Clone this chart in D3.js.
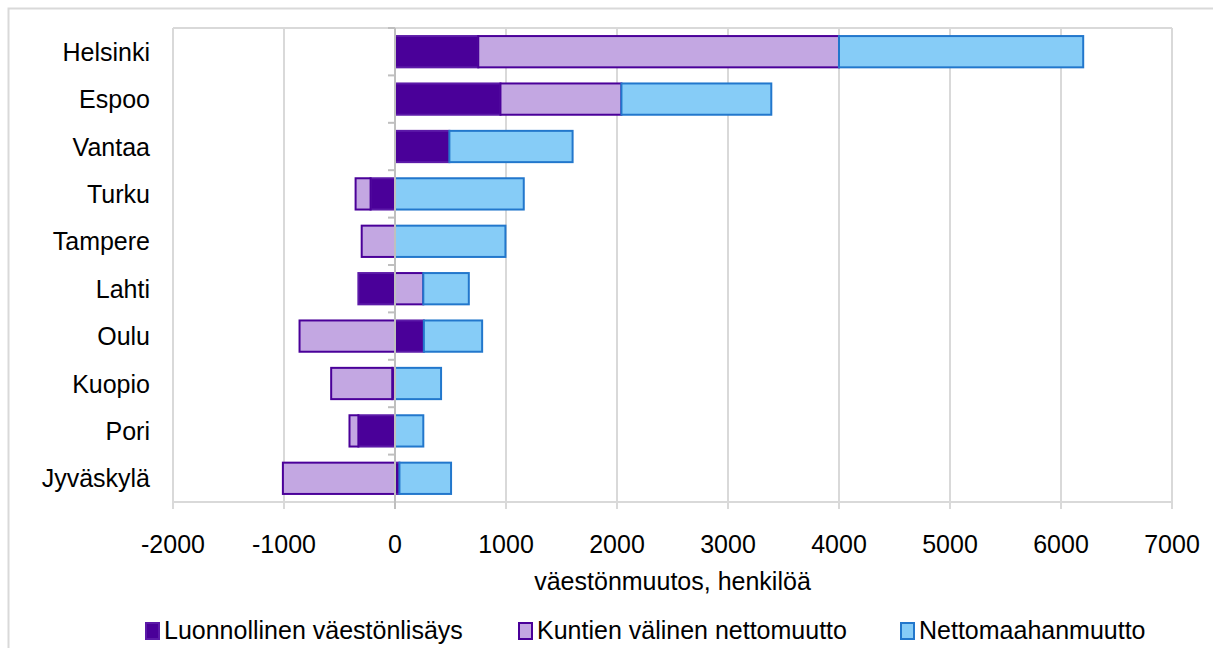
<!DOCTYPE html>
<html>
<head>
<meta charset="utf-8">
<script src="https://cdn.jsdelivr.net/npm/d3@7"></script>
<style>
  body { margin: 0; background: #fff; }
  text { font-family: "Liberation Sans", Arial, sans-serif; fill: #000; }
</style>
</head>
<body>
<svg id="chart" width="1213" height="648"></svg>
<script>
// data
let cities = ['Helsinki', 'Espoo', 'Vantaa', 'Turku', 'Tampere', 'Lahti', 'Oulu', 'Kuopio', 'Pori', 'Jyväskylä'];
let luonnollinen = [750, 950, 490, -220, 0, -330, 260, -25, -330, 40];
let kuntien_valinen = [3250, 1090, 0, -135, -300, 255, -860, -550, -80, -1010];
let maahanmuutto = [2200, 1350, 1110, 1160, 995, 410, 525, 415, 255, 465];
let series_names = ['Luonnollinen väestönlisäys', 'Kuntien välinen nettomuutto', 'Nettomaahanmuutto'];
let x_ticks = [-2000, -1000, 0, 1000, 2000, 3000, 4000, 5000, 6000, 7000];

let FILLS = ['#4a0099', '#c3a7e2', '#86ccf7'];
let STROKES = ['#5c1aa8', '#4a0099', '#2277cc'];

let LEFT = 173, RIGHT = 1172, TOP = 28, BOTTOM = 502;

let rows = cities.map((c, i) => ({
    city: c,
    k0: luonnollinen[i],
    k1: kuntien_valinen[i],
    k2: maahanmuutto[i]
}));

let stacked = d3.stack()
    .keys(['k0', 'k1', 'k2'])
    .offset(d3.stackOffsetDiverging)(rows);

let xScale = d3.scaleLinear().domain([-2000, 7000]).range([LEFT, RIGHT]);
let yScale = d3.scaleBand().domain(cities).range([TOP, BOTTOM]).paddingInner(0.34).paddingOuter(0.17);
let yBand = d3.scaleBand().domain(cities).range([TOP, BOTTOM]);

let svg = d3.select('#chart');

// outer chart border
svg.append('path')
    .attr('d', 'M8.5,648 V8.5 H1213')
    .attr('fill', 'none')
    .attr('stroke', '#d9d9d9')
    .attr('stroke-width', 2);

// top border of plot area
svg.append('line')
    .attr('x1', LEFT).attr('x2', RIGHT)
    .attr('y1', TOP).attr('y2', TOP)
    .attr('stroke', '#d9d9d9').attr('stroke-width', 2);

// vertical gridlines
svg.append('g')
    .selectAll('line')
    .data(x_ticks)
    .join('line')
    .attr('x1', d => xScale(d))
    .attr('x2', d => xScale(d))
    .attr('y1', TOP)
    .attr('y2', BOTTOM + 7)
    .attr('stroke', '#d9d9d9')
    .attr('stroke-width', 2);

// bottom axis line
svg.append('line')
    .attr('x1', LEFT).attr('x2', RIGHT)
    .attr('y1', BOTTOM).attr('y2', BOTTOM)
    .attr('stroke', '#d9d9d9').attr('stroke-width', 2);

// bars
svg.append('g')
    .selectAll('g')
    .data(stacked)
    .join('g')
    .each(function(s, si) {
        d3.select(this).selectAll('rect')
            .data(s.filter(d => d[1] - d[0] !== 0))
            .join('rect')
            .attr('x', d => xScale(Math.min(d[0], d[1])))
            .attr('width', d => Math.abs(xScale(d[1]) - xScale(d[0])))
            .attr('y', d => yScale(d.data.city))
            .attr('height', yScale.bandwidth())
            .attr('fill', FILLS[si])
            .attr('stroke', STROKES[si])
            .attr('stroke-width', 2);
    });

// zero axis with category ticks
svg.append('line')
    .attr('x1', xScale(0)).attr('x2', xScale(0))
    .attr('y1', TOP).attr('y2', BOTTOM + 7)
    .attr('stroke', '#bfbfbf').attr('stroke-width', 2);

svg.append('g')
    .selectAll('line')
    .data(cities)
    .join('line')
    .attr('x1', xScale(0) - 7)
    .attr('x2', xScale(0))
    .attr('y1', d => yBand(d))
    .attr('y2', d => yBand(d))
    .attr('stroke', '#bfbfbf').attr('stroke-width', 2);

// category labels
svg.append('g')
    .selectAll('text')
    .data(cities)
    .join('text')
    .attr('x', 150)
    .attr('y', d => yScale(d) + yScale.bandwidth() / 2)
    .attr('text-anchor', 'end')
    .attr('dominant-baseline', 'central')
    .attr('font-size', 25)
    .text(d => d);

// x tick labels
svg.append('g')
    .selectAll('text')
    .data(x_ticks)
    .join('text')
    .attr('x', d => xScale(d))
    .attr('y', 553)
    .attr('text-anchor', 'middle')
    .attr('font-size', 25)
    .text(d => d);

// axis title
svg.append('text')
    .attr('x', (LEFT + RIGHT) / 2)
    .attr('y', 590)
    .attr('text-anchor', 'middle')
    .attr('font-size', 25)
    .text('väestönmuutos, henkilöä');

// legend
let legend_x = [145, 518, 900];
let leg = svg.append('g')
    .selectAll('g')
    .data(series_names)
    .join('g')
    .attr('transform', (d, i) => `translate(${legend_x[i]},622)`);

leg.append('rect')
    .attr('x', 1).attr('y', 1)
    .attr('width', 13).attr('height', 16)
    .attr('fill', (d, i) => FILLS[i])
    .attr('stroke', (d, i) => STROKES[i])
    .attr('stroke-width', 2);

leg.append('text')
    .attr('x', 19)
    .attr('y', 17)
    .attr('font-size', 25)
    .text(d => d);
</script>
</body>
</html>
